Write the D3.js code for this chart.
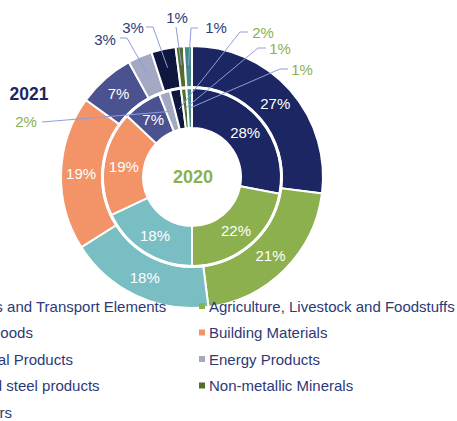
<!DOCTYPE html>
<html><head><meta charset="utf-8">
<script src="https://cdn.jsdelivr.net/npm/d3@7"></script>
<style>body{margin:0;background:#fff;}svg{display:block;font-family:Arial,"Liberation Sans",sans-serif;}</style>
</head><body>
<svg id="c" width="457" height="421"></svg>
<script>
const categories = ["Vehicles and Transport Elements","Agriculture, Livestock and Foodstuffs","Other Goods","Building Materials","Chemical Products","Energy Products","Iron and steel products","Non-metallic Minerals","Fertilizers"];
const values2021 = [27,21,18,19,7,3,3,1,1];
const values2020 = [28,22,18,19,7,2,2,1,1];
const colors = ["#1c2663","#8bb04d","#79bec2","#f29467","#4b5290","#a3a9c2","#10173f","#526d2c","#44898a"];
const ringLabels = ["2021","2020"];

const svg = d3.select("#c");
const cx = 192, cy = 177;
const g = svg.append("g").attr("transform",`translate(${cx},${cy})`);
const pie = d3.pie().sort(null).value(d=>d);
const outerArc = d3.arc().innerRadius(90).outerRadius(131);
const innerArc = d3.arc().innerRadius(49).outerRadius(89);
const outerMid = d3.arc().innerRadius(111).outerRadius(111);
const innerMid = d3.arc().innerRadius(69).outerRadius(69);
const outerLead = d3.arc().innerRadius(112).outerRadius(112);
const innerLead = d3.arc().innerRadius(69).outerRadius(69);

const po = pie(values2021), pi = pie(values2020);
g.selectAll("path.o").data(po).join("path").attr("class","o")
 .attr("d",outerArc).attr("fill",(d,i)=>colors[i]).attr("stroke","#fff").attr("stroke-width",2);
g.selectAll("path.i").data(pi).join("path").attr("class","i")
 .attr("d",innerArc).attr("fill",(d,i)=>colors[i]).attr("stroke","#fff").attr("stroke-width",2);
g.append("circle").attr("r",89.5).attr("fill","none").attr("stroke","#fff").attr("stroke-width",2.5);

function inLabels(data, arcGen){
  g.selectAll(null).data(data.filter(d=>d.value>=5)).join("text")
   .attr("transform",d=>`translate(${arcGen.centroid(d)})`)
   .attr("text-anchor","middle").attr("dy","0.36em")
   .attr("fill","#fff").attr("font-size",15).text(d=>d.value+"%");
}
inLabels(po,outerMid); inLabels(pi,innerMid);

// external labels for small slices: [ring, index, labelX, labelY, path points before anchor]
const ext = [
 ["o",5,105,45,[[120,38],[127,38]]],
 ["o",6,133,33,[[146,27],[153,27]]],
 ["o",7,177,23,[[176,27]]],
 ["o",8,216,33,[[198,28],[191,28]]],
 ["i",5,26,127,[[42,122]]],
 ["i",6,263,38,[[248,32],[240,32]]],
 ["i",7,280,54,[[266,48],[258,48]]],
 ["i",8,302,75,[[288,69],[280,69]]]
];
ext.forEach(([r,idx,lx,ly,pts])=>{
  const d = r==="o"?po[idx]:pi[idx];
  const a = (r==="o"?outerLead:innerLead).centroid(d);
  const all = pts.map(p=>[p[0],p[1]]).concat([[a[0]+cx,a[1]+cy]]);
  svg.append("path").attr("d",d3.line()(all)).attr("fill","none").attr("stroke","#8e9de0").attr("stroke-width",1);
  svg.append("text").attr("x",lx).attr("y",ly).attr("text-anchor","middle")
    .attr("font-size",15).attr("fill",r==="o"?"#2d3977":"#8bb04d").text(d.value+"%");
});

svg.append("text").attr("x",29).attr("y",100).attr("text-anchor","middle").attr("font-size",17.5).attr("font-weight","bold").attr("fill","#1c2663").text(ringLabels[0]);
svg.append("text").attr("x",cx+1).attr("y",cy+6).attr("text-anchor","middle").attr("font-size",18).attr("font-weight","bold").attr("fill","#8bb04d").text(ringLabels[1]);

// legend
const colW = 262, lx0 = 199 - colW, ly0 = 306, rowH = 26.5;
const lg = svg.append("g");
categories.forEach((c,i)=>{
  const col = i%2, row = Math.floor(i/2);
  const x = lx0 + col*colW, y = ly0 + row*rowH;
  lg.append("rect").attr("x",x).attr("y",y-3).attr("width",6).attr("height",6).attr("fill",colors[i]);
  lg.append("text").attr("x",x+10).attr("y",y+5.5).attr("font-size",15).attr("fill","#2d3977").text(c);
});
</script>
</body></html>
